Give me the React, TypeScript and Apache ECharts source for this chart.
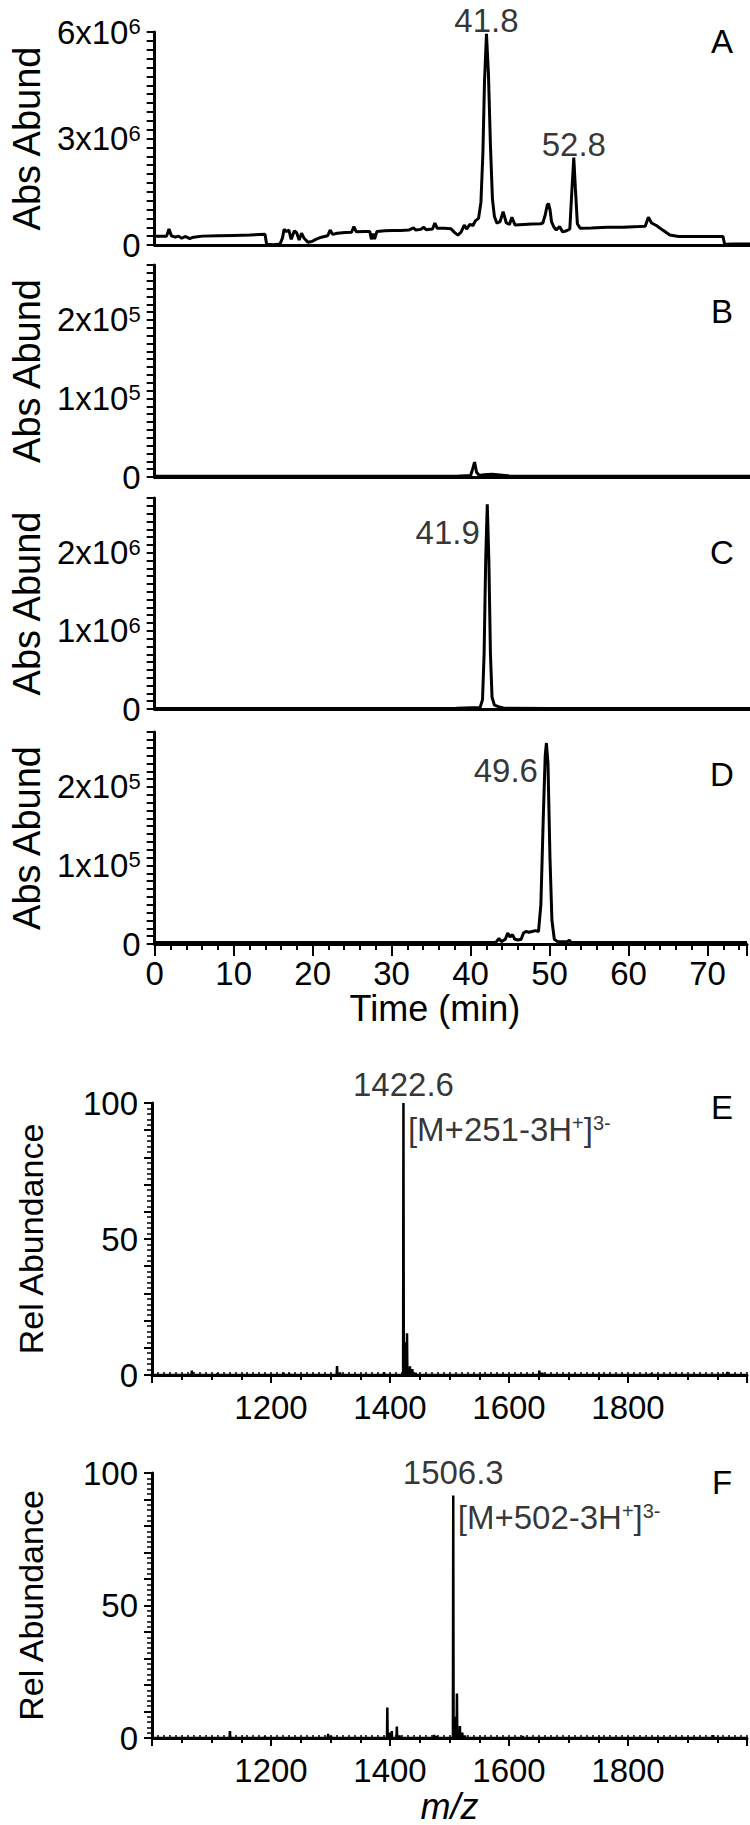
import React, { useEffect, useRef } from "react";
import * as echarts from "echarts";

// ---------- DATA ----------
// Panel A: total chromatogram, abundance in units of 10^6
const A_TIME = [0, 1.5, 1.8, 2.1, 2.6, 3.0, 3.4, 3.9, 4.4, 4.9, 6.0, 8.0, 10.0, 12.0, 13.9, 14.1, 15.0, 15.8, 16.1, 16.3, 16.6, 16.9, 17.2, 17.6, 17.9, 18.2, 18.5, 18.8, 19.3, 19.8, 20.3, 21.0, 21.8, 22.1, 22.4, 23.0, 24.0, 24.8, 25.1, 25.4, 26.5, 27.1, 27.3, 27.5, 27.7, 28.0, 29.0, 30.0, 31.0, 32.0, 32.6, 32.9, 33.5, 33.9, 34.2, 35.0, 35.3, 35.6, 36.5, 37.3, 37.8, 38.2, 38.6, 39.0, 39.3, 39.7, 40.1, 40.4, 40.8, 41.1, 41.35, 41.55, 41.8, 42.05, 42.3, 42.55, 42.8, 43.1, 43.5, 43.9, 44.3, 44.7, 45.0, 45.4, 46.5, 47.5, 48.6, 48.9, 49.2, 49.45, 49.6, 49.8, 50.0, 50.3, 50.6, 51.0, 51.4, 51.9, 52.3, 52.55, 52.8, 53.0, 53.25, 53.6, 55.0, 57.0, 59.0, 61.0, 61.8, 62.2, 62.6, 63.2, 64.0, 64.9, 66.0, 68.0, 70.0, 71.6, 71.8, 73.0, 75.0];
const A_ABUND = [0.25, 0.25, 0.45, 0.26, 0.22, 0.25, 0.19, 0.24, 0.18, 0.22, 0.25, 0.26, 0.27, 0.28, 0.3, 0.02, 0.01, 0.03, 0.2, 0.44, 0.38, 0.42, 0.16, 0.4, 0.34, 0.14, 0.33, 0.2, 0.08, 0.1, 0.16, 0.22, 0.26, 0.42, 0.3, 0.33, 0.35, 0.36, 0.52, 0.37, 0.38, 0.38, 0.16, 0.32, 0.17, 0.38, 0.4, 0.41, 0.41, 0.42, 0.48, 0.42, 0.44, 0.5, 0.43, 0.45, 0.62, 0.47, 0.47, 0.46, 0.35, 0.28, 0.36, 0.56, 0.45, 0.58, 0.55, 0.68, 0.75, 1.2, 2.6, 4.6, 5.95, 4.8, 2.8, 1.3, 0.8, 0.62, 0.65, 0.94, 0.62, 0.58, 0.78, 0.56, 0.58, 0.59, 0.6, 0.62, 0.85, 1.12, 1.17, 1.0, 0.65, 0.5, 0.42, 0.52, 0.37, 0.4, 0.45, 1.5, 2.46, 1.6, 0.6, 0.47, 0.48, 0.5, 0.5, 0.52, 0.53, 0.78, 0.62, 0.55, 0.42, 0.28, 0.24, 0.24, 0.24, 0.24, 0.02, 0.03, 0.03];
const A_PEAK_TIME = [41.8, 52.8];
const A_PEAK_ABUND = [5.95, 2.46];

// Panel B: abundance in units of 10^5
const B_TIME = [0, 20, 38, 39.8, 40.05, 40.3, 40.55, 40.9, 41.5, 42.5, 43.5, 44.5, 50, 75];
const B_ABUND = [0.01, 0.01, 0.01, 0.02, 0.1, 0.19, 0.06, 0.02, 0.03, 0.035, 0.025, 0.015, 0.01, 0.01];

// Panel C: abundance in units of 10^6
const C_TIME = [0, 30, 38, 41.0, 41.3, 41.5, 41.7, 41.9, 42.1, 42.3, 42.5, 42.8, 43.3, 44, 50, 75];
const C_ABUND = [0.005, 0.005, 0.01, 0.02, 0.12, 0.7, 1.9, 2.62, 1.9, 0.7, 0.15, 0.05, 0.03, 0.01, 0.005, 0.005];
const C_PEAK_TIME = [41.9];
const C_PEAK_ABUND = [2.62];

// Panel D: abundance in units of 10^5
const D_TIME = [0, 20, 40, 43.2, 43.6, 43.9, 44.4, 44.7, 45.0, 45.3, 45.6, 46.0, 46.4, 46.7, 47.0, 47.4, 47.8, 48.2, 48.6, 48.9, 49.2, 49.45, 49.6, 49.8, 50.05, 50.3, 50.6, 51, 52.3, 52.5, 52.7, 55, 75];
const D_ABUND = [0.02, 0.02, 0.02, 0.02, 0.07, 0.03, 0.06, 0.14, 0.09, 0.12, 0.06, 0.05, 0.06, 0.14, 0.16, 0.15, 0.16, 0.17, 0.16, 0.5, 1.6, 2.4, 2.56, 2.3, 1.1, 0.3, 0.06, 0.03, 0.03, 0.05, 0.02, 0.02, 0.02];
const D_PEAK_TIME = [49.6];
const D_PEAK_ABUND = [2.56];

// Panel E: mass spectrum (relative abundance, %)
const E_MZ = [1067, 1110, 1221, 1231, 1311, 1316, 1390, 1422.6, 1426.2, 1428.6, 1433.5, 1437.5, 1443, 1651, 1656, 1838, 1967];
const E_INT = [1.6, 0.6, 0.8, 0.5, 3.3, 0.9, 1.0, 100, 12, 15.3, 3.2, 2.2, 0.8, 1.6, 0.8, 0.5, 1.1];
const E_LABEL_MZ = 1422.6;
const E_LABEL_INT = 100;

// Panel F: mass spectrum (relative abundance, %)
const F_MZ = [1131, 1190, 1296, 1301, 1395.5, 1399.5, 1403, 1411.5, 1416, 1474, 1478, 1506.3, 1509.5, 1512.5, 1517.5, 1521.5, 1526, 1623, 1943];
const F_INT = [2.6, 0.5, 1.6, 0.8, 11.5, 2.0, 2.6, 4.3, 1.0, 1.2, 0.8, 91.5, 8, 16.8, 4.5, 2.0, 1.0, 0.8, 1.1];
const F_LABEL_MZ = 1506.3;
const F_LABEL_INT = 91.5;

const PANEL_LETTERS = ["A", "B", "C", "D", "E", "F"];
const TIME_TICKS_MAJOR = 10;
const MZ_TICKS_MAJOR = 200;

// ---------- STYLE / LAYOUT ----------
const FONT = "'Liberation Sans', Arial, Helvetica, sans-serif";
const NUM_SIZE = 33;
const SUP_SIZE = 22;
const ABS_NAME_SIZE = 38;
const REL_NAME_SIZE = 34;
const TIME_NAME_SIZE = 36;
const BLACK = "#000";
const AXIS_W = 3;
const LEFT = 152;

const GRIDS = [
  { left: LEFT, right: 0, top: 32, height: 213 },
  { left: LEFT, right: 0, top: 265, height: 212 },
  { left: LEFT, right: 0, top: 498, height: 211 },
  { left: LEFT, right: 0, top: 732, height: 212 },
  { left: LEFT, right: 0, top: 1103, height: 272 },
  { left: LEFT, right: 0, top: 1473, height: 270 },
];
const LETTER_POS = [
  [722, 41],
  [722, 311],
  [722, 552],
  [722, 774],
  [722, 1107],
  [722, 1482],
];

function zip(xs: number[], ys: number[]) {
  return xs.map((x, i) => [x, ys[i]]);
}

function stickSpectrum(mz: number[], inten: number[], lo: number, hi: number) {
  const pts: number[][] = [[lo, 0]];
  mz.forEach((m, i) => {
    pts.push([m - 0.6, 0], [m, inten[i]], [m + 0.6, 0]);
  });
  pts.push([hi, 0]);
  return pts;
}

const richSup = {
  b: { fontFamily: FONT, fontSize: NUM_SIZE, color: BLACK },
  s: { fontFamily: FONT, fontSize: SUP_SIZE, color: BLACK, verticalAlign: "top" as const },
};

function yAxisFor(
  gridIndex: number,
  max: number,
  interval: number,
  labelEvery: number,
  exp: number | null,
  name: string,
  nameSize: number,
  nameGap: number,
  minorSplit: number
) {
  return {
    type: "value",
    gridIndex,
    min: 0,
    max,
    interval,
    name,
    nameLocation: "middle",
    nameGap,
    nameRotate: 90,
    nameTextStyle: { fontFamily: FONT, fontSize: nameSize, color: BLACK },
    axisLine: { show: true, onZero: false, lineStyle: { color: BLACK, width: AXIS_W } },
    axisTick: { show: true, length: 8, lineStyle: { color: BLACK, width: 2 } },
    minorTick:
      minorSplit > 0
        ? { show: true, splitNumber: minorSplit, length: 5, lineStyle: { color: BLACK, width: 1.5 } }
        : { show: false },
    axisLabel: {
      show: true,
      margin: 14,
      fontFamily: FONT,
      fontSize: NUM_SIZE,
      color: BLACK,
      showMaxLabel: true,
      showMinLabel: true,
      rich: richSup,
      formatter: (v: number) => {
        const q = v / labelEvery;
        if (Math.abs(q - Math.round(q)) > 1e-6) return "";
        const n = Math.round(v);
        if (n === 0 || exp === null) return String(n);
        return `{b|${n}x10}{s|${exp}}`;
      },
    },
    splitLine: { show: false },
    minorSplitLine: { show: false },
  };
}

function plainX(gridIndex: number, min: number, max: number) {
  return {
    type: "value",
    gridIndex,
    min,
    max,
    position: "bottom",
    axisLine: { show: true, onZero: false, lineStyle: { color: BLACK, width: AXIS_W } },
    axisTick: { show: false },
    axisLabel: { show: false },
    splitLine: { show: false },
  };
}

function minorX(gridIndex: number, min: number, max: number, interval: number, length: number, inside: boolean) {
  return {
    type: "value",
    gridIndex,
    min,
    max,
    interval,
    position: "bottom",
    axisLine: { show: false, onZero: false },
    axisTick: { show: true, inside, length, lineStyle: { color: BLACK, width: inside ? 1.5 : 2 } },
    axisLabel: { show: false },
    splitLine: { show: false },
  };
}

function mzAxis(gridIndex: number, withName: boolean) {
  return {
    type: "value",
    gridIndex,
    min: 1000,
    max: 2000,
    interval: MZ_TICKS_MAJOR,
    position: "bottom",
    axisLine: { show: true, onZero: false, lineStyle: { color: BLACK, width: AXIS_W } },
    axisTick: { show: true, length: 8, lineStyle: { color: BLACK, width: 2 } },
    minorTick: { show: true, splitNumber: 4, length: 5, lineStyle: { color: BLACK, width: 2 } },
    axisLabel: {
      show: true,
      margin: 16,
      fontFamily: FONT,
      fontSize: NUM_SIZE,
      color: BLACK,
      formatter: (v: number) => (v === 1000 || v === 2000 ? "" : String(v)),
    },
    name: withName ? "m/z" : "",
    nameLocation: "middle",
    nameGap: 50,
    nameTextStyle: { fontFamily: FONT, fontSize: TIME_NAME_SIZE, fontStyle: "italic", color: BLACK },
    splitLine: { show: false },
    minorSplitLine: { show: false },
  };
}

function lineSeries(xi: number, yi: number, data: number[][], width: number) {
  return {
    type: "line",
    xAxisIndex: xi,
    yAxisIndex: yi,
    data,
    showSymbol: false,
    symbol: "none",
    smooth: false,
    silent: true,
    lineStyle: { color: BLACK, width },
  };
}

function labelSeries(xi: number, yi: number, items: any[]) {
  return {
    type: "scatter",
    xAxisIndex: xi,
    yAxisIndex: yi,
    symbolSize: 1,
    silent: true,
    itemStyle: { color: "rgba(0,0,0,0)" },
    data: items,
    z: 10,
  };
}

const numLabel = (text: string, position: string, distance: number, offset: number[]) => ({
  show: true,
  formatter: text,
  position,
  distance,
  offset,
  fontFamily: FONT,
  fontSize: NUM_SIZE,
  color: BLACK,
});

const ionLabel = (text: string, offset: number[]) => ({
  show: true,
  formatter: text,
  position: "right",
  distance: 4,
  offset,
  color: BLACK,
  rich: {
    t: { fontFamily: FONT, fontSize: NUM_SIZE, color: BLACK },
    s: { fontFamily: FONT, fontSize: 20, color: BLACK, verticalAlign: "top" as const },
  },
});

export default function App() {
  const ref = useRef<HTMLDivElement>(null);

  useEffect(() => {
    if (!ref.current) return;
    const chart = echarts.init(ref.current, null, { renderer: "svg" });

    const option: any = {
      animation: false,
      backgroundColor: "#fff",
      grid: GRIDS,
      xAxis: [
        plainX(0, 0, 75),
        plainX(1, 0, 75),
        plainX(2, 0, 75),
        {
          type: "value",
          gridIndex: 3,
          min: 0,
          max: 75,
          interval: TIME_TICKS_MAJOR,
          position: "bottom",
          axisLine: { show: true, onZero: false, lineStyle: { color: BLACK, width: AXIS_W } },
          axisTick: { show: true, length: 12, lineStyle: { color: BLACK, width: 2 } },
          axisLabel: {
            show: true,
            margin: 13,
            fontFamily: FONT,
            fontSize: NUM_SIZE,
            color: BLACK,
            formatter: (v: number) => (v % TIME_TICKS_MAJOR === 0 ? String(v) : ""),
          },
          name: "Time (min)",
          nameLocation: "middle",
          nameGap: 46,
          nameTextStyle: { fontFamily: FONT, fontSize: TIME_NAME_SIZE, color: BLACK, padding: [0, 32, 0, 0] },
          splitLine: { show: false },
        },
        minorX(3, 0, 75, 2, 6, false),
        mzAxis(4, false),
        minorX(4, 1000, 2000, 10, 3, true),
        mzAxis(5, true),
        minorX(5, 1000, 2000, 10, 3, true),
      ],
      yAxis: [
        yAxisFor(0, 6, 0.25, 3, 6, "Abs Abund", ABS_NAME_SIZE, 108, 0),
        yAxisFor(1, 2.7, 0.1, 1, 5, "Abs Abund", ABS_NAME_SIZE, 108, 0),
        yAxisFor(2, 2.7, 0.1, 1, 6, "Abs Abund", ABS_NAME_SIZE, 108, 0),
        yAxisFor(3, 2.7, 0.1, 1, 5, "Abs Abund", ABS_NAME_SIZE, 108, 0),
        yAxisFor(4, 100, 10, 50, null, "Rel Abundance", REL_NAME_SIZE, 104, 5),
        yAxisFor(5, 100, 10, 50, null, "Rel Abundance", REL_NAME_SIZE, 104, 5),
      ],
      series: [
        lineSeries(0, 0, zip(A_TIME, A_ABUND), 3),
        lineSeries(1, 1, zip(B_TIME, B_ABUND), 3),
        lineSeries(2, 2, zip(C_TIME, C_ABUND), 3),
        lineSeries(3, 3, zip(D_TIME, D_ABUND), 3),
        lineSeries(5, 4, stickSpectrum(E_MZ, E_INT, 1000, 2000), 2.5),
        lineSeries(7, 5, stickSpectrum(F_MZ, F_INT, 1000, 2000), 2.5),
        labelSeries(
          0,
          0,
          A_PEAK_TIME.map((t, i) => ({ value: [t, A_PEAK_ABUND[i]], label: numLabel(String(t), "top", 0, [0, 4]) }))
        ),
        labelSeries(
          2,
          2,
          C_PEAK_TIME.map((t, i) => ({ value: [t, C_PEAK_ABUND[i]], label: numLabel(String(t), "left", 7, [0, 28]) }))
        ),
        labelSeries(
          3,
          3,
          D_PEAK_TIME.map((t, i) => ({ value: [t, D_PEAK_ABUND[i]], label: numLabel(String(t), "left", 8, [0, 28]) }))
        ),
        labelSeries(5, 4, [
          { value: [E_LABEL_MZ, E_LABEL_INT], label: numLabel(String(E_LABEL_MZ), "top", 2, [0, 0]) },
          { value: [E_LABEL_MZ, E_LABEL_INT], label: ionLabel("{t|[M+251-3H}{s|+}{t|]}{s|3-}", [0, 26]) },
        ]),
        labelSeries(7, 5, [
          { value: [F_LABEL_MZ, F_LABEL_INT], label: numLabel(String(F_LABEL_MZ), "top", 6, [0, 0]) },
          { value: [F_LABEL_MZ, F_LABEL_INT], label: ionLabel("{t|[M+502-3H}{s|+}{t|]}{s|3-}", [0, 22]) },
        ]),
      ],
      graphic: PANEL_LETTERS.map((l, i) => ({
        type: "text",
        x: LETTER_POS[i][0],
        y: LETTER_POS[i][1],
        style: {
          text: l,
          font: `${NUM_SIZE}px ${FONT}`,
          fill: BLACK,
          textAlign: "center",
          textVerticalAlign: "middle",
        },
      })),
    };

    chart.setOption(option);
    return () => chart.dispose();
  }, []);

  return (
    <div
      ref={ref}
      style={{ position: "absolute", left: 0, top: 0, width: 750, height: 1825, background: "#fff" }}
    />
  );
}
